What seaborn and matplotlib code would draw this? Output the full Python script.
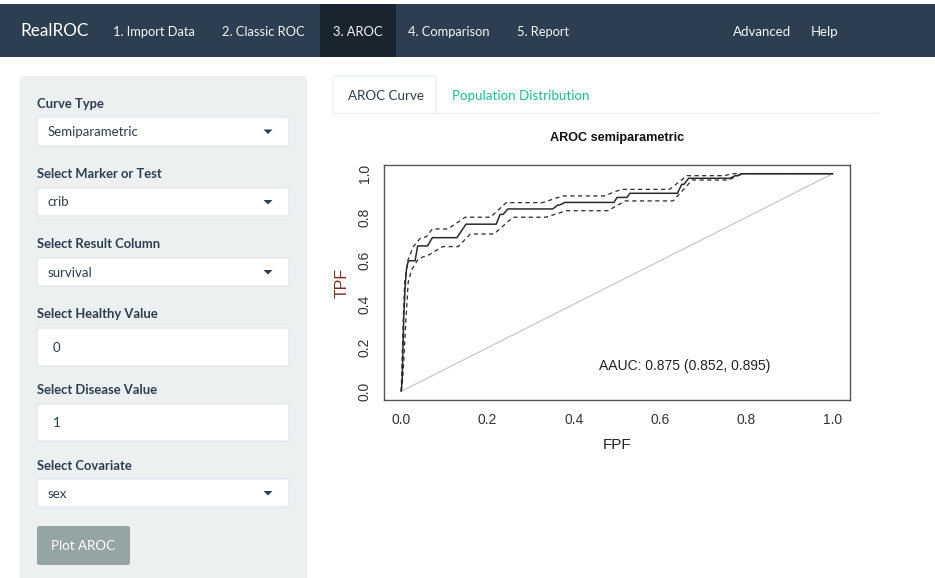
import matplotlib
matplotlib.use("Agg")
import matplotlib.pyplot as plt
from matplotlib.patches import FancyBboxPatch, Rectangle, Polygon
import numpy as np
import pandas as pd
import seaborn as sns

# ---- data -------------------------------------------------------------
fpf_est = [0.0, 0.002, 0.004, 0.006, 0.009, 0.012, 0.015, 0.018, 0.032, 0.038,
           0.061, 0.072, 0.129, 0.150, 0.220, 0.229, 0.236, 0.247, 0.351, 0.363,
           0.367, 0.379, 0.493, 0.500, 0.523, 0.530, 0.640, 0.650, 0.655, 0.666,
           0.762, 0.774, 0.780, 0.790, 1.0]
tpf_est = [0.0, 0.05, 0.20, 0.35, 0.48, 0.56, 0.59, 0.60, 0.60, 0.668,
           0.668, 0.706, 0.706, 0.768, 0.768, 0.813, 0.813, 0.838, 0.838, 0.856,
           0.856, 0.868, 0.868, 0.891, 0.891, 0.910, 0.910, 0.951, 0.951, 0.979,
           0.979, 0.991, 0.991, 1.0, 1.0]

fpf_upper = [0.0, 0.002, 0.005, 0.008, 0.015, 0.028, 0.044, 0.058, 0.072, 0.108,
             0.148, 0.207, 0.243, 0.327, 0.375, 0.470, 0.510, 0.622, 0.662, 0.750,
             0.766, 1.0]
tpf_upper = [0.0, 0.15, 0.35, 0.50, 0.60, 0.665, 0.703, 0.710, 0.746, 0.746,
             0.800, 0.800, 0.867, 0.867, 0.898, 0.898, 0.928, 0.928, 0.991, 0.991,
             1.0, 1.0]

fpf_lower = [0.0, 0.003, 0.006, 0.010, 0.016, 0.024, 0.040, 0.064, 0.096, 0.132,
             0.160, 0.215, 0.259, 0.335, 0.383, 0.479, 0.519, 0.630, 0.674, 0.758,
             0.790, 1.0]
tpf_lower = [0.0, 0.05, 0.15, 0.30, 0.50, 0.558, 0.610, 0.627, 0.665, 0.665,
             0.723, 0.723, 0.800, 0.800, 0.830, 0.830, 0.875, 0.875, 0.971, 0.971,
             1.0, 1.0]

x_ticks = [0.0, 0.2, 0.4, 0.6, 0.8, 1.0]
y_ticks = [0.0, 0.2, 0.4, 0.6, 0.8, 1.0]
aauc, aauc_lo, aauc_hi = 0.875, 0.852, 0.895

nav_items = ["1. Import Data", "2. Classic ROC", "3. AROC", "4. Comparison", "5. Report"]
nav_x = [113, 222, 333, 408, 517]
nav_right = ["Advanced", "Help"]
nav_right_x = [733, 811]

fields = [
    ("Curve Type", "Semiparametric", "select", 103, 117, 146),
    ("Select Marker or Test", "crib", "select", 173, 188, 216),
    ("Select Result Column", "survival", "select", 243, 258, 286),
    ("Select Healthy Value", "0", "input", 313, 328, 366),
    ("Select Disease Value", "1", "input", 389, 404, 441),
    ("Select Covariate", "sex", "select", 465, 479, 507),
]

# ---- figure -----------------------------------------------------------
W, H = 935, 578
sns.set_style("white")
plt.rcParams["font.family"] = ["Lato", "DejaVu Sans"]

fig = plt.figure(figsize=(W / 100, H / 100), dpi=100)
fig.patch.set_facecolor("white")


def fx(px):
    return px / W


def fy(py):
    return 1 - py / H


def rect(x0, y0, x1, y1, color, ec="none", lw=0, rounded=0.0, z=0):
    if rounded:
        p = FancyBboxPatch((fx(x0), fy(y1)), fx(x1) - fx(x0), fy(y0) - fy(y1),
                           boxstyle=f"round,pad=0,rounding_size={rounded / W}",
                           transform=fig.transFigure, facecolor=color,
                           edgecolor=ec, linewidth=lw, zorder=z)
    else:
        p = Rectangle((fx(x0), fy(y1)), fx(x1) - fx(x0), fy(y0) - fy(y1),
                      transform=fig.transFigure, facecolor=color,
                      edgecolor=ec, linewidth=lw, zorder=z)
    fig.patches.append(p)


def text(x, y, s, **kw):
    fig.text(fx(x), fy(y), s, va="center", **kw)


# navbar
rect(0, 4, W, 57, "#2c3e50")
rect(320, 4, 396, 57, "#1a242f")
text(20, 31.5, "RealROC", color="white", fontsize=12.3)
for lab, x in zip(nav_items, nav_x):
    text(x, 31.5, lab, color="#f4f6f7", fontsize=9.3)
for lab, x in zip(nav_right, nav_right_x):
    text(x, 31.5, lab, color="#f4f6f7", fontsize=9.5)

# sidebar panel
rect(20, 76, 307, 580, "#ecf0f1", rounded=4)
for label, value, kind, ly, b0, b1 in fields:
    text(37, ly + 0.5, label, color="#2c3e50", fontsize=9.4, fontweight="bold")
    rect(37, b0, 289, b1, "white", ec="#dce4ec", lw=0.8, rounded=3)
    vx = 48 if kind == "select" else 53
    text(vx, (b0 + b1) / 2 + 0.5, value, color="#2c3e50", fontsize=9.5)
    if kind == "select":
        cx, cy = 268, (b0 + b1) / 2
        tri = Polygon([(fx(cx - 4.5), fy(cy - 2)), (fx(cx + 4.5), fy(cy - 2)),
                       (fx(cx), fy(cy + 2.5))], closed=True,
                      transform=fig.transFigure, facecolor="#2c3e50", edgecolor="none")
        fig.patches.append(tri)

# button
rect(37, 526, 130, 565, "#95a5a6", rounded=3)
text(83.5, 545.5, "Plot AROC", color="white", fontsize=9.6, ha="center")

# tabs
fig.lines.append(plt.Line2D([fx(333), fx(878)], [fy(113), fy(113)],
                            transform=fig.transFigure, color="#ecf0f1", lw=1))
rect(333, 76, 436, 114, "white", ec="#ecf0f1", lw=1, rounded=3)
rect(334, 110, 435, 115, "white")
text(348, 95.5, "AROC Curve", color="#2c3e50", fontsize=9.6)
text(452, 95.5, "Population Distribution", color="#18bc9c", fontsize=9.6)

# ---- ROC plot ---------------------------------------------------------
ax = fig.add_axes([fx(384), fy(400), fx(850) - fx(384), fy(165) - fy(400)])
ax.set_facecolor("white")
plot_font = ["Liberation Sans", "DejaVu Sans"]

roc = pd.DataFrame({"fpf": fpf_est, "tpf": tpf_est})
up = pd.DataFrame({"fpf": fpf_upper, "tpf": tpf_upper})
lo = pd.DataFrame({"fpf": fpf_lower, "tpf": tpf_lower})

ax.plot([0, 1], [0, 1], color="#c8c8c8", lw=0.9, zorder=1)
sns.lineplot(data=roc, x="fpf", y="tpf", ax=ax, color="#2b2b2b", lw=1.1,
             sort=False, estimator=None, zorder=3)
for d in (up, lo):
    sns.lineplot(data=d, x="fpf", y="tpf", ax=ax, color="#333333", lw=0.95,
                 sort=False, estimator=None, zorder=2, dashes=False,
                 linestyle=(0, (3.2, 2.6)))

ax.set_xlim(-0.04, 1.04)
ax.set_ylim(-0.04, 1.04)
ax.set_xticks(x_ticks)
ax.set_yticks(y_ticks)
ax.set_xticklabels([f"{v:.1f}" for v in x_ticks], family=plot_font, fontsize=10,
                   color="#333333")
ax.set_yticklabels([f"{v:.1f}" for v in y_ticks], family=plot_font, fontsize=10,
                   color="#333333", rotation=90, va="center")
ax.tick_params(axis="both", length=5, width=0.8, color="#444444", direction="out",
               pad=4)
for s in ax.spines.values():
    s.set_color("#555555")
    s.set_linewidth(1.0)

ax.set_xlabel("FPF", family=plot_font, fontsize=11, color="#222222", labelpad=8)
ax.set_ylabel("TPF", family=plot_font, fontsize=11.5, color="#7a2e22", labelpad=6)
ax.set_title("AROC semiparametric", family=plot_font, fontsize=9.1,
             fontweight="bold", color="#111111", pad=17)
ax.text(0.458, 0.117, f"AAUC: {aauc:.3f} ({aauc_lo:.3f}, {aauc_hi:.3f})",
        family=plot_font, fontsize=10, color="#222222", transform=ax.transData,
        va="center")

fig.savefig("out.png", dpi=100)
